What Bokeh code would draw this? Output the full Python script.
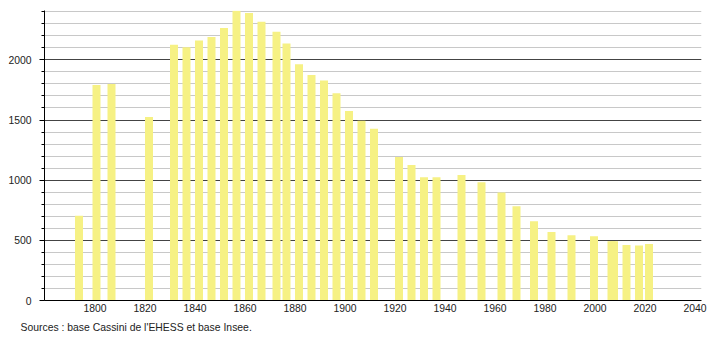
from bokeh.plotting import figure
from bokeh.models import ColumnDataSource, FixedTicker, Range1d, Title
from bokeh.transform import dodge
from bokeh.embed import file_html
from bokeh.resources import INLINE

years = [1793, 1800, 1806, 1821, 1831, 1836, 1841, 1846, 1851, 1856, 1861, 1866,
         1872, 1876, 1881, 1886, 1891, 1896, 1901, 1906, 1911, 1921, 1926, 1931,
         1936, 1946, 1954, 1962, 1968, 1975, 1982, 1990, 1999, 2006, 2007, 2012,
         2017, 2021]
population = [705, 1790, 1800, 1525, 2125, 2105, 2160, 2190, 2265, 2408, 2390, 2317,
              2233, 2136, 1964, 1875, 1828, 1722, 1575, 1494, 1428, 1192, 1127, 1025,
              1025, 1042, 983, 898, 783, 658, 569, 542, 534, 492, 492, 462,
              458, 469]
x_ticks = list(range(1800, 2041, 20))
y_ticks = [0, 500, 1000, 1500, 2000]
y_minor = list(range(0, 2401, 100))
source_text = "Sources : base Cassini de l'EHESS et base Insee."

FONT = "Liberation Sans"

src = ColumnDataSource(data=dict(year=years, pop=population))

p = figure(width=710, height=340, output_backend="svg", toolbar_location=None,
           x_range=Range1d(1779.8, 2042.6), y_range=Range1d(0, 2410),
           min_border_left=44, min_border_right=9, min_border_top=10,
           min_border_bottom=40)
p.outline_line_color = None
p.background_fill_color = "white"
p.border_fill_color = "white"

p.vbar(x=dodge("year", 0.6, range=p.x_range), top="pop", width=3.2, bottom=0,
       source=src, fill_color="#f6f184", line_color=None)

# grids
p.xgrid.visible = False
p.ygrid.ticker = FixedTicker(ticks=y_ticks, minor_ticks=y_minor)
p.ygrid.grid_line_color = "#444444"
p.ygrid.grid_line_width = 1
p.ygrid.minor_grid_line_color = "#c8c8c8"
p.ygrid.minor_grid_line_width = 1

# y axis
p.yaxis.ticker = FixedTicker(ticks=y_ticks, minor_ticks=y_minor)
p.yaxis.axis_line_color = "black"
p.yaxis.major_tick_out = 5
p.yaxis.major_tick_in = 0
p.yaxis.minor_tick_out = 3
p.yaxis.minor_tick_in = 0
p.yaxis.major_tick_line_color = "black"
p.yaxis.minor_tick_line_color = "black"
p.yaxis.major_label_standoff = 8
p.yaxis.major_label_text_font = FONT
p.yaxis.major_label_text_font_size = "10.4px"
p.yaxis.major_label_text_color = "#222222"

# x axis
p.xaxis.ticker = FixedTicker(ticks=x_ticks, minor_ticks=[])
p.xaxis.axis_line_color = "black"
p.xaxis.major_tick_out = 0
p.xaxis.major_tick_in = 0
p.xaxis.minor_tick_out = 0
p.xaxis.minor_tick_in = 0
p.xaxis.major_label_standoff = 3
p.xaxis.major_label_text_font = FONT
p.xaxis.major_label_text_font_size = "10.4px"
p.xaxis.major_label_text_color = "#222222"

t = Title(text=source_text, align="left", offset=-24, standoff=11,
          text_font=FONT, text_font_size="10.4px", text_color="#222222",
          text_font_style="normal")
p.add_layout(t, "below")

open("out.html", "w").write(file_html(p, INLINE))
